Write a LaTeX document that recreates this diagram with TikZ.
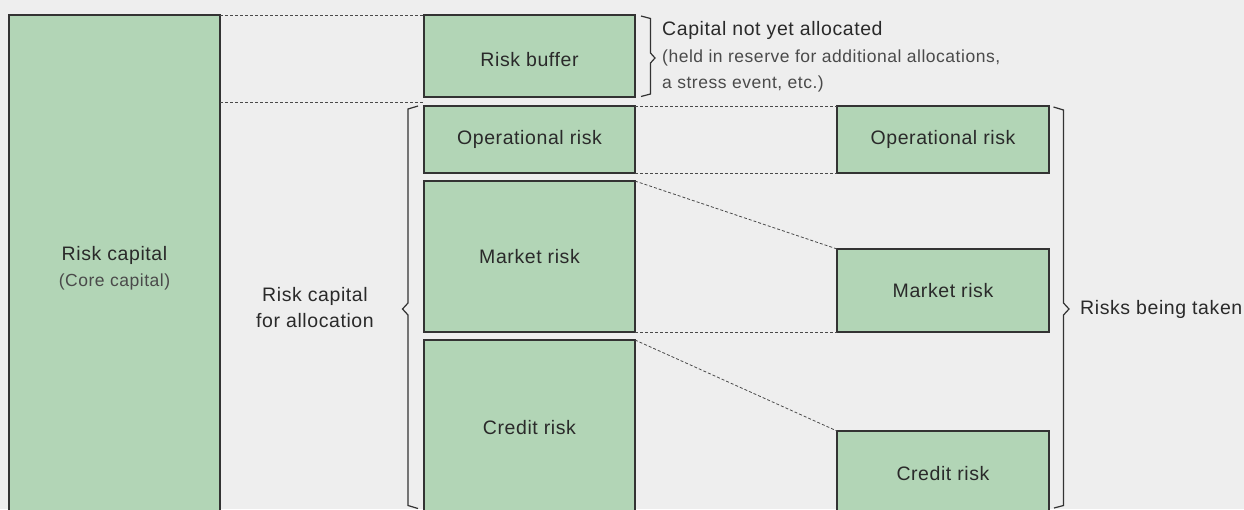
\documentclass[tikz,border=0pt]{standalone}
\usepackage{fontspec}
\setmainfont{Liberation Sans}[LetterSpace=3]
\usetikzlibrary{calc}
\definecolor{bg}{HTML}{EEEEEE}
\definecolor{boxfill}{HTML}{B2D5B6}
\definecolor{edge}{HTML}{333333}
\definecolor{txt}{HTML}{2A2A2A}
\definecolor{subtxt}{HTML}{4A4A4A}
\definecolor{dashc}{HTML}{4A4A4A}
\newcommand{\bigfnt}{\fontsize{19.5}{26}\selectfont}
\newcommand{\smallfnt}{\fontsize{17.5}{26}\selectfont}
\begin{document}
\begin{tikzpicture}[x=1pt,y=-1pt,
  box/.style={draw=edge, fill=boxfill, line width=1.2pt, inner sep=0pt, outer sep=0pt,
              anchor=north west, text=txt, font=\bigfnt, align=center},
  lbl/.style={inner sep=0pt, text=txt, font=\bigfnt},
  sub/.style={inner sep=0pt, text=subtxt, font=\smallfnt},
  guide/.style={draw=dashc, line width=0.8pt, dash pattern=on 3pt off 2pt},
  brace/.style={draw=edge, line width=1.2pt, line join=miter}]
\fill[bg] (0,0) rectangle (1244,509);
\useasboundingbox (0,0) rectangle (1244,509);
\begin{scope}
\clip (0,0) rectangle (1244,509);
\node[box, minimum width=211pt, minimum height=506pt] (cap) at (9,15)
  {Risk capital\\{\color{subtxt}\smallfnt (Core capital)}};
\node[box, minimum width=211pt, minimum height=82pt] (buf) at (424,15) {};
\node[box, minimum width=211pt, minimum height=67pt] (opL) at (424,106) {Operational risk};
\node[box, minimum width=211pt, minimum height=151pt] (mkL) at (424,181) {Market risk};
\node[box, minimum width=211pt, minimum height=175pt] (crL) at (424,340) {Credit risk};
\node[box, minimum width=212pt, minimum height=67pt] (opR) at (837,106) {Operational risk};
\node[box, minimum width=212pt, minimum height=83pt] (mkR) at (837,249) {Market risk};
\node[box, minimum width=212pt, minimum height=86pt] (crR) at (837,431) {Credit risk};
\end{scope}
\node[lbl] (buft) at ($(buf.center)+(0,4)$) {Risk buffer};
\coordinate (sepA) at (220,102);
\coordinate (sepB) at (424,102);
\draw[guide] (cap.north east) -- (buf.north west);
\draw[guide] (sepA) -- (sepB);
\draw[guide] (opL.north east) -- (opR.north west);
\draw[guide] (opL.south east) -- (opR.south west);
\draw[guide] (mkL.north east) -- (mkR.north west);
\draw[guide] (mkL.south east) -- (mkR.south west);
\draw[guide] (crL.north east) -- (crR.north west);
\draw[brace] (641,16) -- (650.5,18.5) -- (650.5,53) -- (655,58) -- (650.5,63) -- (650.5,94) -- (641,96.5);
\draw[brace] (418,106) -- (408,109) -- (408,303) -- (402.5,309) -- (408,315) -- (408,505.5) -- (418,508.5);
\draw[brace] (1053.5,107) -- (1063.5,110) -- (1063.5,303) -- (1069,309) -- (1063.5,315) -- (1063.5,505.5) -- (1054,508);
\node[lbl, anchor=west] (notyet) at (662,30) {Capital not yet allocated};
\node[sub, anchor=west, align=left] (held) at (662,71)
  {(held in reserve for additional allocations,\\a stress event, etc.)};
\node[lbl, anchor=west] (taken) at (1080,309) {Risks being taken};
\node[lbl, align=center] (alloc) at (315,308) {Risk capital\\for allocation};
\end{tikzpicture}
\end{document}
